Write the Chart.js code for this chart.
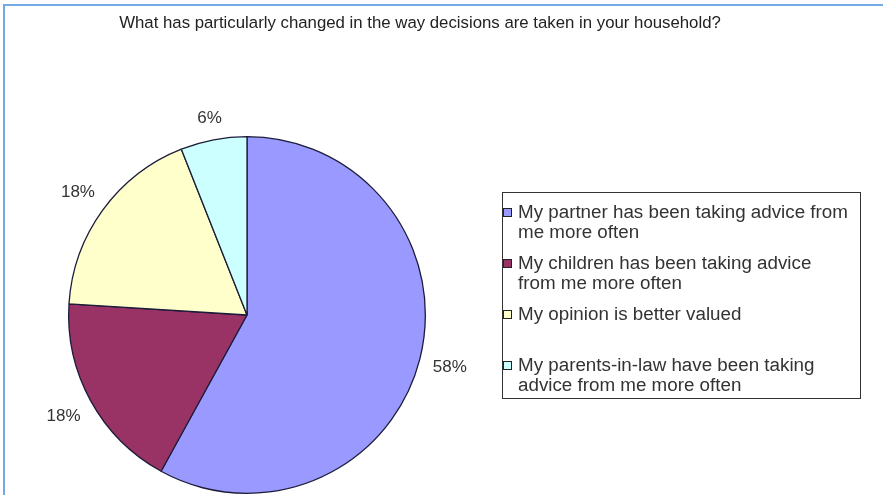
<!DOCTYPE html>
<html>
<head>
<meta charset="utf-8">
<script src="https://cdn.jsdelivr.net/npm/chart.js@4/dist/chart.umd.min.js"></script>
<style>
  html, body { margin: 0; padding: 0; background: #fff; }
  #wrap { position: relative; width: 883px; height: 495px; }
</style>
</head>
<body>
<div id="wrap"><canvas id="decisionChart" width="883" height="495"></canvas></div>
<script>
// survey answers, one entry per slice (legend lines kept as they wrap)
var chartTitle = 'What has particularly changed in the way decisions are taken in your household?';
var categories = [
  ['My partner has been taking advice from', 'me more often'],
  ['My children has been taking advice', 'from me more often'],
  ['My opinion is better valued'],
  ['My parents-in-law have been taking', 'advice from me more often']
];
var shares = [58, 18, 18, 6];
var sliceColors = ['#9999FF', '#993366', '#FFFFCC', '#CCFFFF'];

var FONT = '"Liberation Sans", Arial, sans-serif';

// frame, title, percentage labels and the boxed legend
var decorations = {
  id: 'decorations',
  beforeDraw: function (chart) {
    var ctx = chart.ctx;
    ctx.save();
    ctx.fillStyle = '#fff';
    ctx.fillRect(0, 0, chart.width, chart.height);
    ctx.strokeStyle = '#74a9e4';
    ctx.lineWidth = 2;
    ctx.beginPath();
    ctx.moveTo(4, chart.height);
    ctx.lineTo(4, 5);
    ctx.lineTo(chart.width, 5);
    ctx.stroke();

    ctx.fillStyle = '#222';
    ctx.font = '16.8px ' + FONT;
    ctx.textAlign = 'center';
    ctx.textBaseline = 'middle';
    ctx.fillText(chartTitle, 420, 23);
    ctx.restore();
  },
  afterDatasetsDraw: function (chart) {
    var ctx = chart.ctx;
    var meta = chart.getDatasetMeta(0);
    ctx.save();
    ctx.fillStyle = '#333';
    ctx.font = '17px ' + FONT;
    ctx.textAlign = 'center';
    ctx.textBaseline = 'middle';
    meta.data.forEach(function (arc, i) {
      var p = arc.getProps(['x', 'y', 'startAngle', 'endAngle', 'outerRadius'], true);
      var mid = (p.startAngle + p.endAngle) / 2;
      var dx = Math.cos(mid), dy = Math.sin(mid);
      var text = shares[i] + '%';
      var w = ctx.measureText(text).width, h = 13;
      var d = p.outerRadius + 13 + Math.abs(dx) * w / 2 + Math.abs(dy) * h / 2;
      ctx.fillText(text, p.x + dx * d, p.y + dy * d);
    });

    // legend box
    ctx.strokeStyle = '#333';
    ctx.lineWidth = 1;
    ctx.strokeRect(502.5, 192.5, 358, 206);
    ctx.font = '18.8px ' + FONT;
    ctx.textAlign = 'left';
    categories.forEach(function (lines, i) {
      var top = 213 + i * 51;
      ctx.fillStyle = sliceColors[i];
      ctx.fillRect(504, top - 4, 7, 7);
      ctx.strokeStyle = '#222';
      ctx.strokeRect(503.5, top - 4.5, 8, 8);
      ctx.fillStyle = '#333';
      lines.forEach(function (line, j) {
        ctx.fillText(line, 518, top + j * 20);
      });
    });
    ctx.restore();
  }
};

var ctx = document.getElementById('decisionChart').getContext('2d');
var decisionChart = new Chart(ctx, {
  type: 'pie',
  data: {
    labels: categories,
    datasets: [{
      data: shares,
      backgroundColor: sliceColors,
      borderColor: '#1c1c3a',
      borderWidth: 1.3
    }]
  },
  options: {
    responsive: false,
    animation: false,
    layout: {
      padding: { left: 68, right: 457, top: 136, bottom: 1 }
    },
    plugins: {
      legend: { display: false },
      title: { display: false },
      tooltip: { enabled: false }
    }
  },
  plugins: [decorations]
});
</script>
</body>
</html>
